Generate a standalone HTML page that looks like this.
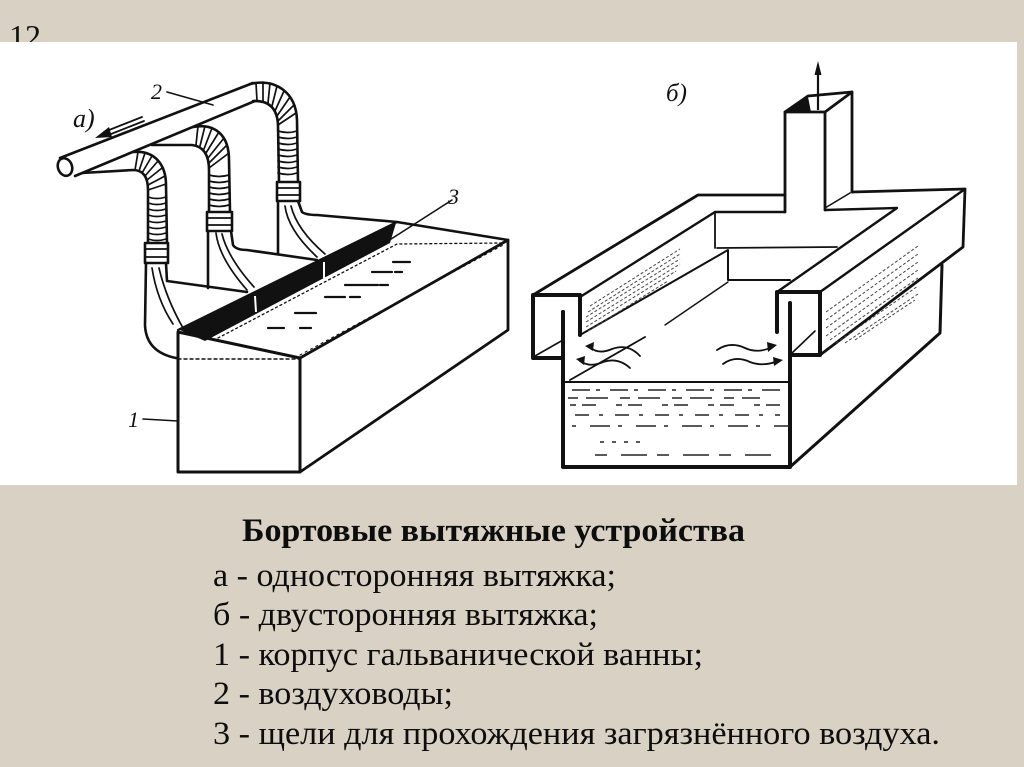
<!DOCTYPE html>
<html><head><meta charset="utf-8"><style>
html,body{margin:0;padding:0;background:#d8d1c4;}
svg{display:block;}
</style></head><body>
<svg width="1024" height="767" viewBox="0 0 1024 767" xmlns="http://www.w3.org/2000/svg">
<rect width="1024" height="767" fill="#d8d1c4"/>
<text x="9" y="47" font-family="Liberation Serif, serif" font-size="32" fill="#111">12</text>
<rect x="0" y="42" width="1017" height="443" fill="#ffffff"/>

<!-- LEFT DRAWING -->
<g fill="none" stroke="#111" stroke-width="2.6" stroke-linecap="round" stroke-linejoin="round">
  <!-- main pipe -->
  <path d="M60,158 L253,83"/>
  <path d="M75,176 L255,101"/>
  <ellipse cx="65" cy="167" rx="7" ry="9" transform="rotate(-20 65 167)" fill="#fff"/>
  <!-- hose 1 -->
  <path d="M133,152 C155,150 166,165 166,185 L167,243"/>
  <path d="M82,173 L133,170 Q148,170 148,190 L148,243"/>
  <rect x="145" y="243" width="23" height="20" fill="#fff" stroke-width="2.6"/>
  <path d="M145,249 L168,249 M145,257 L168,257" stroke-width="1.8"/>
  <path d="M146,263 L145,325 Q146,352 176,358"/>
  <path d="M166,263 L167,281 L247,292"/>
  <path d="M152,268 Q157,300 173,324" stroke-width="1.7"/>
  <path d="M159,268 Q166,298 183,328" stroke-width="1.7"/>
  <g stroke-width="1.7">
    <path d="M138,152 L135,170 M145,153 L139,171 M152,156 L142,173 M158,161 L145,176 M162,168 L147,180 M165,176 L148,185 M166,184 L148,190"/>
    <path d="M148,197 Q157,200 166,197 M148,203 Q157,206 166,203 M148,209 Q157,212 166,209 M148,215 Q157,218 166,215 M148,221 Q157,224 166,221 M148,227 Q157,230 166,227 M148,233 Q157,236 166,233 M148,239 Q157,242 166,239"/>
  </g>
  <!-- hose 2 -->
  <path d="M193,127 C215,123 229,135 229,160 L230,212"/>
  <path d="M152,145 L192,145 Q209,147 209,170 L209,212"/>
  <rect x="207" y="212" width="25" height="19" fill="#fff" stroke-width="2.6"/>
  <path d="M207,218 L232,218 M207,225 L232,225" stroke-width="1.8"/>
  <path d="M208,231 L208,288"/>
  <path d="M231,231 L233,245 Q236,250 247,250 L317,260"/>
  <path d="M216,233 Q219,258 247,290" stroke-width="1.7"/>
  <path d="M222,234 Q228,258 254,287" stroke-width="1.7"/>
  <g stroke-width="1.7">
    <path d="M198,126 L196,145 M205,126 L200,146 M212,128 L204,149 M219,132 L206,153 M224,138 L208,158 M227,145 L209,163 M229,153 L209,168"/>
    <path d="M209,175 Q219,178 229,175 M209,181 Q219,184 229,181 M209,187 Q219,190 229,187 M209,193 Q219,196 229,193 M209,199 Q219,202 229,199 M209,205 Q219,208 229,205"/>
  </g>
  <!-- hose 3 -->
  <path d="M250,84 C275,78 296,92 297,120 L298,182"/>
  <path d="M253,101 Q277,100 278,125 L279,182"/>
  <rect x="277" y="182" width="23" height="19" fill="#fff" stroke-width="2.6"/>
  <path d="M277,188 L300,188 M277,195 L300,195" stroke-width="1.8"/>
  <path d="M278,201 L278,253"/>
  <path d="M298,201 L302,212 Q306,215 317,215 L397,222 L508,240"/>
  <path d="M285,206 Q288,230 317,257" stroke-width="1.7"/>
  <path d="M291,206 Q297,230 325,254" stroke-width="1.7"/>
  <g stroke-width="1.7">
    <path d="M256,83 L257,101 M263,82 L263,101 M270,83 L268,103 M277,86 L272,106 M284,91 L275,111 M290,97 L277,116 M294,105 L278,121 M296,113 L278,125"/>
    <path d="M278,131 Q288,134 297,131 M278,137 Q288,140 297,137 M278,143 Q288,146 297,143 M278,149 Q288,152 297,149 M278,155 Q288,158 297,155 M278,161 Q288,164 297,161 M278,167 Q288,170 297,167 M278,173 Q288,176 297,173"/>
  </g>
  <!-- tank -->
  <path d="M178,332 L178,472 L300,472 L300,358 Z" stroke-width="3"/>
  <path d="M300,472 L508,330 L508,240 L300,358" stroke-width="2.8"/>
  <path d="M178,330 L397,222" stroke-width="2.2"/>
  <path d="M178,359 L300,359" stroke-width="1.4" stroke-dasharray="3 3"/>
  <path d="M218,338 L397,244 L503,243" stroke-width="1.3" stroke-dasharray="2 3"/>
  <path d="M300,355 L505,244" stroke-width="1.1" stroke-dasharray="2 4"/>
  <!-- surface dashes -->
  <g stroke-width="2.2">
    <path d="M393,262 L410,262 M372,272 L392,272 M345,285 L378,285 M325,297 L345,297 M295,313 L316,313 M268,328 L284,328 M300,328 L311,328 M350,297 L360,297 M395,272 L402,272 M380,285 L388,285"/>
  </g>
  <!-- labels leaders -->
  <path d="M167,92 L213,105" stroke-width="1.6"/>
  <path d="M452,200 L388,241" stroke-width="1.6"/>
  <path d="M143,419 L178,421" stroke-width="1.6"/>
  <!-- arrow a -->
  <path d="M142,117 L104,132 M144,121 L106,136" stroke-width="1.8"/>
</g>
<polygon points="180,330 396,223 390,243 205,341" fill="#111"/>
<path d="M255,296 L256,312 M324,262 L324,278" stroke="#fff" stroke-width="2"/>
<polygon points="95,138 109,127 112,137" fill="#111"/>
<g font-family="Liberation Serif, serif" font-style="italic" fill="#111">
  <text x="151" y="99" font-size="22">2</text>
  <text x="73" y="127" font-size="26">а)</text>
  <text x="448" y="204" font-size="22">3</text>
  <text x="128" y="427" font-size="22">1</text>
</g>

<!-- RIGHT DRAWING -->
<g fill="none" stroke="#111" stroke-width="2.8" stroke-linecap="round" stroke-linejoin="round">
  <!-- duct -->
  <path d="M785,212 L785,112 L825,112 L825,210"/>
  <path d="M825,112 L852,92 L852,192"/>
  <path d="M785,112 L808,96 L852,92"/>
  <path d="M825,208 L850,193" stroke-width="1.6"/>
  <!-- trough top -->
  <path d="M533,295 L698,195 L785,195"/>
  <path d="M852,192 L965,189 L963,247 L820,355"/>
  <path d="M820,292 L965,189" stroke-width="2.4"/>
  <path d="M580,297 L715,212 L785,212" stroke-width="2.4"/>
  <path d="M825,210 L897,208 L777,292" stroke-width="2.4"/>
  <path d="M715,212 L715,248" stroke-width="1.8"/>
  <path d="M580,335 L728,250 L728,280 L790,280" stroke-width="2"/>
  <path d="M717,248 L837,247" stroke-width="1.8"/>
  <!-- C profiles -->
  <path d="M580,335 L580,295 L533,295 L533,358 L563,358 L563,312" stroke-width="4"/>
  <path d="M535,356 L563,340" stroke-width="1.6"/>
  <path d="M777,332 L777,292 L820,292 L820,355 L790,355" stroke-width="4"/>
  <path d="M792,353 L815,331" stroke-width="1.6"/>
  <!-- tank -->
  <path d="M563,312 L563,467 L790,467 L790,303" stroke-width="4"/>
  <path d="M563,382 L790,382" stroke-width="2"/>
  <path d="M790,467 L940,333 L942,265" stroke-width="3"/>
  <path d="M570,380 L645,337" stroke-width="1.8"/>
  <path d="M665,325 L728,282" stroke-width="1.4"/>
  <!-- waves -->
  <path d="M640,356 Q628,343 612,349 Q598,355 590,347" stroke-width="1.8"/>
  <path d="M630,368 Q618,357 603,362 Q590,368 580,361" stroke-width="1.8"/>
  <path d="M717,350 Q730,341 745,348 Q758,354 772,347" stroke-width="1.8"/>
  <path d="M723,364 Q735,355 750,362 Q763,367 778,361" stroke-width="1.8"/>
</g>
<polygon points="786,112 808,97 811,112" fill="#111"/>
<path d="M818,110 L818,68" stroke="#111" stroke-width="2.2"/>
<polygon points="818,61 814.5,75 821.5,75" fill="#111"/>
<g fill="#111">
  <polygon points="585,346 594,342 593,351"/>
  <polygon points="576,359 585,356 584,365"/>
  <polygon points="777,345 767,342 768,352"/>
  <polygon points="783,360 773,357 774,366"/>
</g>
<!-- hatching -->
<g stroke="#444" stroke-width="1" stroke-dasharray="3 2" fill="none">
  <path d="M586,317 L680,259 M586,322 L680,264 M586,327 L676,271 M588,331 L668,281 M588,312 L680,254 M590,306 L680,249"/>
  <path d="M826,320 L918,254 M826,328 L918,262 M826,336 L918,270 M830,340 L918,278 M836,343 L918,286 M845,343 L918,294 M855,340 L915,300 M826,312 L918,246"/>
</g>
<!-- liquid dashes -->
<g stroke="#222" stroke-width="1.4" fill="none">
  <path d="M572,390 L785,390" stroke-dasharray="18 6 4 10"/>
  <path d="M568,398 L760,398" stroke-dasharray="10 8 22 12"/>
  <path d="M570,405 L785,405" stroke-dasharray="6 6 14 20"/>
  <path d="M575,415 L780,415" stroke-dasharray="14 10 4 12"/>
  <path d="M572,426 L790,426" stroke-dasharray="4 14 20 8"/>
  <path d="M600,442 L640,442" stroke-dasharray="4 8"/>
  <path d="M595,455 L780,455" stroke-dasharray="12 14 26 10"/>
</g>
<text x="666" y="101" font-family="Liberation Serif, serif" font-style="italic" font-size="25" fill="#111">б)</text>

<!-- CAPTION -->
<g font-family="Liberation Serif, serif" fill="#0d0d0d" font-size="33">
  <text x="242" y="541" font-weight="bold" textLength="503" lengthAdjust="spacingAndGlyphs">Бортовые вытяжные устройства</text>
  <text x="213" y="586" textLength="403" lengthAdjust="spacingAndGlyphs">а - односторонняя вытяжка;</text>
  <text x="213" y="625" textLength="385" lengthAdjust="spacingAndGlyphs">б - двусторонняя вытяжка;</text>
  <text x="213" y="665" textLength="490" lengthAdjust="spacingAndGlyphs">1 - корпус гальванической ванны;</text>
  <text x="213" y="704" textLength="240" lengthAdjust="spacingAndGlyphs">2 - воздуховоды;</text>
  <text x="213" y="744" textLength="727" lengthAdjust="spacingAndGlyphs">3 - щели для прохождения загрязнённого воздуха.</text>
</g>
</svg>
</body></html>
